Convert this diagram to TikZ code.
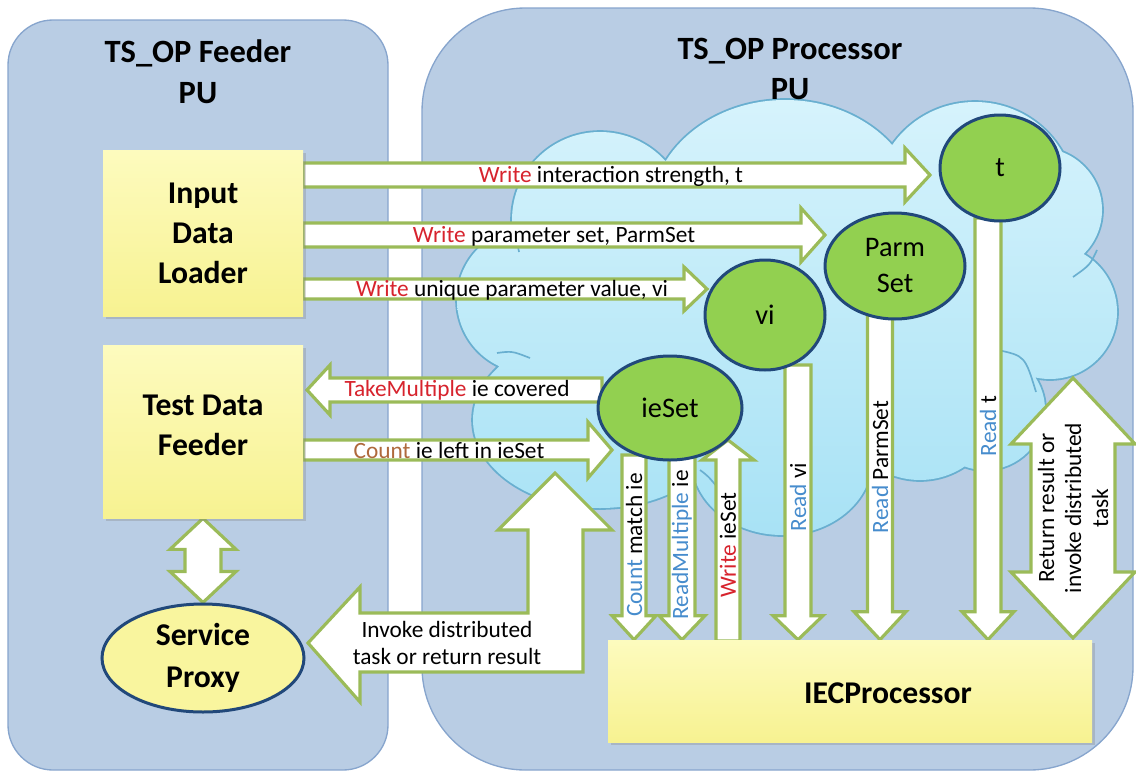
\documentclass[tikz,border=0pt]{standalone}
\usepackage{fontspec}
\setmainfont{Carlito}
\usetikzlibrary{shapes.geometric,shadows,calc}

\definecolor{panelfill}{RGB}{185,205,228}
\definecolor{panelline}{RGB}{135,165,205}
\definecolor{cloudtop}{RGB}{214,243,252}
\definecolor{cloudbot}{RGB}{168,226,245}
\definecolor{cloudline}{RGB}{105,175,208}
\definecolor{arrowgreen}{RGB}{155,187,89}
\definecolor{nodegreen}{RGB}{146,208,80}
\definecolor{nodeblue}{RGB}{33,72,122}
\definecolor{yelltop}{RGB}{253,251,190}
\definecolor{yellbot}{RGB}{247,242,145}
\definecolor{opred}{RGB}{215,35,45}
\definecolor{opblue}{RGB}{70,140,205}
\definecolor{opbrown}{RGB}{175,105,60}

\pgfdeclarelayer{back}
\pgfdeclarelayer{mid}
\pgfsetlayers{back,mid,main}

% point #1 along and #2 across the axis of a block arrow (used inside let)
\newcommand\axpt[2]{({\x1+(#1)*\n2-(#2)*\n3},{\y1+(#1)*\n3+(#2)*\n2})}

% the cloud as a union of bumps
\newcommand\cloudpath{(600,220) circle[radius=88] (530,300) circle[radius=73]
  (600,420) ellipse[x radius=127,y radius=88] (785,215) ellipse[x radius=135,y radius=115]
  (975,200) ellipse[x radius=100,y radius=98] (1040,210) circle[radius=62]
  (1050,312) circle[radius=67] (985,410) circle[radius=60] (920,400) circle[radius=80]
  (782,460) ellipse[x radius=90,y radius=75] (790,320) ellipse[x radius=260,y radius=170]}

\tikzset{
  panel/.style={fill=panelfill, draw=panelline, line width=0.8pt},
  headtxt/.style={font=\bfseries\fontsize{19.5}{24.5}\selectfont, align=center, inner sep=0pt},
  ybox/.style={rectangle, top color=yelltop, bottom color=yellbot, inner sep=0pt,
    drop shadow={opacity=0.3, shadow xshift=1.8pt, shadow yshift=-1.8pt},
    font=\bfseries\fontsize{19}{24}\selectfont, align=center},
  boxtxt/.style={font=\bfseries\fontsize{19}{24}\selectfont, align=center, inner sep=0pt},
  store/.style={ellipse, fill=nodegreen, draw=nodeblue, line width=1.8pt, inner sep=0pt,
    font=\fontsize{17}{21.6}\selectfont, align=center},
  proxy/.style={ellipse, fill=yellbot!70!yelltop, draw=nodeblue, line width=1.8pt, inner sep=0pt,
    font=\bfseries\fontsize{19}{25}\selectfont, align=center},
  lbl/.style={font=\fontsize{14}{16.2}\selectfont, inner sep=0pt, align=center},
  barrow/.style={fill=white, draw=arrowgreen, line width=1.9pt, line join=miter},
  % single block arrow: half shaft width, half head width, head length (px)
  sblk/.style n args={3}{to path={
    let \p1=(\tikztostart), \p2=(\tikztotarget),
        \n1={abs(\x2-\x1)+abs(\y2-\y1)},
        \n2={(\x2-\x1)/\n1}, \n3={(\y2-\y1)/\n1},
        \n4={#1*0.6}, \n5={#2*0.6}, \n6={\n1-#3*0.6}
    in \axpt{0}{\n4} -- \axpt{\n6}{\n4} -- \axpt{\n6}{\n5} -- \axpt{\n1}{0}
       -- \axpt{\n6}{-\n5} -- \axpt{\n6}{-\n4} -- \axpt{0}{-\n4} -- cycle}},
  % double block arrow
  dblk/.style n args={3}{to path={
    let \p1=(\tikztostart), \p2=(\tikztotarget),
        \n1={abs(\x2-\x1)+abs(\y2-\y1)},
        \n2={(\x2-\x1)/\n1}, \n3={(\y2-\y1)/\n1},
        \n4={#1*0.6}, \n5={#2*0.6}, \n6={\n1-#3*0.6}, \n7={#3*0.6}
    in \axpt{0}{0} -- \axpt{\n7}{\n5} -- \axpt{\n7}{\n4} -- \axpt{\n6}{\n4}
       -- \axpt{\n6}{\n5} -- \axpt{\n1}{0} -- \axpt{\n6}{-\n5} -- \axpt{\n6}{-\n4}
       -- \axpt{\n7}{-\n4} -- \axpt{\n7}{-\n5} -- cycle}},
}

\begin{document}
\begin{tikzpicture}[x=0.6pt,y=-0.6pt]
\useasboundingbox (0,0) rectangle (1136,774);

% processing units and the space cloud
\begin{pgfonlayer}{back}
  \draw[panel, rounded corners=27pt] (8,20) rectangle (388,770);
  \draw[panel, rounded corners=62pt] (422,8) rectangle (1133,770);
  \draw[draw=cloudline, line width=2.2pt] \cloudpath;
  \shade[top color=cloudtop, bottom color=cloudbot] \cloudpath;
  \draw[cloudline, line width=1pt]
    (1097,250) .. controls (1090,265) .. (1073,277)
    (497,353) .. controls (512,351) .. (530,358)
    (998,350) .. controls (1025,356) .. (1036,392)
    (700,470) .. controls (708,476) .. (718,488)
    (517,226) .. controls (516,236) .. (519,252);
\end{pgfonlayer}

\node[headtxt] (hfeed) at (198,72) {TS\_OP Feeder\\PU};
\node[headtxt] (hproc) at (790,69) {TS\_OP Processor\\PU};

% components
\node[ybox, minimum width=120pt, minimum height=99.6pt] (idl) at (203,233) {Input\\Data\\Loader};
\node[ybox, minimum width=120pt, minimum height=103.8pt] (tdf) at (203,431.5) {};
\node[boxtxt] (tdftxt) at (203,425) {Test Data\\Feeder};
\node[proxy, minimum width=121.2pt, minimum height=64.8pt] (sp) at (203,658) {Service\\Proxy};
\node[ybox, minimum width=290.4pt, minimum height=61.2pt] (iec) at (850,691) {};
\node[boxtxt] (iectxt) at (888,693) {IECProcessor};

\node[store, minimum width=86.4pt, minimum height=62.4pt] (ieset) at (670,408) {ieSet};
\node[store, minimum width=72pt, minimum height=66pt] (vi) at (765,315) {vi};
\node[store, minimum width=84pt, minimum height=63.6pt] (parm) at (895,266) {Parm\\Set};
\node[store, minimum width=72pt, minimum height=63.6pt] (tnode) at (1000,168) {t};

% arrow end points
\coordinate (w1s) at (303,175);  \coordinate (w1e) at (930,175);
\coordinate (w2s) at (303,235);  \coordinate (w2e) at (825,235);
\coordinate (w3s) at (303,289);  \coordinate (w3e) at (707,289);
\coordinate (tms) at (602,390);  \coordinate (tme) at (307,390);
\coordinate (cls) at (303,450);  \coordinate (cle) at (612,450);
\coordinate (cms) at (634,455);
\coordinate (rms) at (682,455);
\coordinate (wis) at (728,641);  \coordinate (wie) at (728,440);
\coordinate (rvs) at (798,365);
\coordinate (rps) at (880,315);
\coordinate (rts) at (988,218);
\coordinate (rrs) at (1073,378); \coordinate (rre) at (1073,638);
\coordinate (ltip) at (308,643);

\begin{pgfonlayer}{mid}
  \draw[barrow] (w1s) to[sblk={12}{27}{25}] (w1e);
  \draw[barrow] (w2s) to[sblk={12}{27}{24}] (w2e);
  \draw[barrow] (w3s) to[sblk={10}{22}{23}] (w3e);
  \draw[barrow] (tms) to[sblk={12}{25}{23}] (tme);
  \draw[barrow] (cls) to[sblk={10}{28}{24}] (cle);
  \draw[barrow] (cms) to[sblk={12}{22}{24}] (cms |- iec.north);
  \draw[barrow] (rms) to[sblk={13}{23}{24}] (rms |- iec.north);
  \draw[barrow] (wis) to[sblk={12}{26}{20}] (wie);
  \draw[barrow] (rvs) to[sblk={13}{25}{24}] (rvs |- iec.north);
  \draw[barrow] (rps) to[sblk={12.5}{26}{28}] (rps |- iec.north);
  \draw[barrow] (rts) to[sblk={13}{26}{28}] (rts |- iec.north);
  \draw[barrow] (rrs) to[dblk={42}{62}{66}] (rre);
  \draw[barrow] (tdf.south) to[dblk={18}{33}{31}] (sp.north);
  \draw[barrow] (ltip) -- (360,587) -- (360,613) -- (528,613) -- (528,530) -- (498,530)
    -- (555,473) -- (612,530) -- (583,530) -- (583,672) -- (360,672) -- (360,702) -- cycle;
\end{pgfonlayer}

% arrow labels
\node[lbl] (lw1) at (611,176) {\textcolor{opred}{Write} interaction strength, t};
\node[lbl] (lw2) at (554,236) {\textcolor{opred}{Write} parameter set, ParmSet};
\node[lbl] (lw3) at (512,290) {\textcolor{opred}{Write} unique parameter value, vi};
\node[lbl] (ltm) at (457,390) {\textcolor{opred}{TakeMultiple} ie covered};
\node[lbl] (lcl) at (449,450) {\textcolor{opbrown}{Count} ie left in ieSet};
\node[lbl] (linv) at (447,643) {Invoke distributed\\task or return result};
\node[lbl, rotate=90] (lcm) at (634,545) {\textcolor{opblue}{Count} match ie};
\node[lbl, rotate=90] (lrm) at (682,545) {\textcolor{opblue}{ReadMultiple} ie};
\node[lbl, rotate=90] (lwi) at (728,545) {\textcolor{opred}{Write} ieSet};
\node[lbl, rotate=90] (lrv) at (798,497) {\textcolor{opblue}{Read} vi};
\node[lbl, rotate=90] (lrp) at (880,467) {\textcolor{opblue}{Read} ParmSet};
\node[lbl, rotate=90] (lrt) at (988,426) {\textcolor{opblue}{Read} t};
\node[lbl, rotate=90] (lrr) at (1073,508) {Return result or\\invoke distributed\\task};
\end{tikzpicture}
\end{document}
